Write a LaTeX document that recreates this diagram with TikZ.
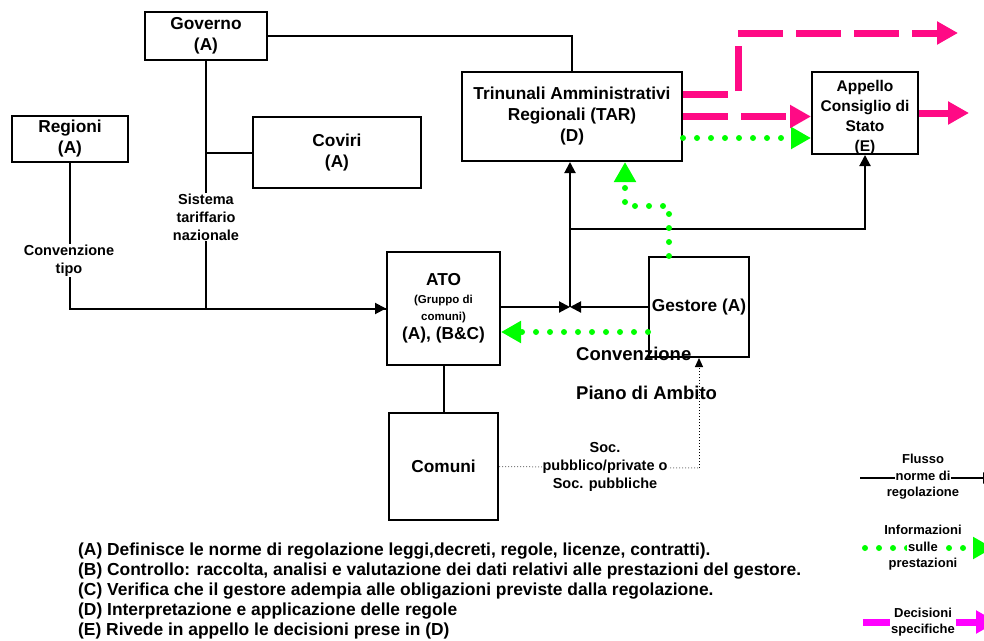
\documentclass[tikz,border=0pt]{standalone}
\usepackage{fontspec}
\setmainfont{Liberation Sans}
\usepackage{xcolor}
\usetikzlibrary{shapes,arrows.meta,positioning,calc}

\definecolor{decpink}{RGB}{255,10,133}
\definecolor{infogreen}{RGB}{0,255,0}
\definecolor{legmagenta}{RGB}{255,0,255}
\setlength{\fboxsep}{1pt}

\tikzset{
    box/.style={draw, line width=2pt, inner sep=0pt, align=center,
        font=\fontsize{17.3}{21}\selectfont\bfseries},
    norm/.style={line width=2pt},
    flow/.style={line width=2pt, -{Triangle[length=11pt,width=11pt]}},
    info/.style={infogreen, line width=6pt, line cap=round,
        dash pattern=on 0pt off 14pt, -{Triangle[length=20pt,width=21pt]}},
    decision/.style={decpink, line width=7pt, dash pattern=on 45pt off 13pt,
        -{Triangle[length=21pt,width=22pt]}},
    lbl/.style={fill=white, inner sep=1pt, align=center,
        font=\fontsize{14.5}{18}\selectfont\bfseries},
    legend/.style={inner sep=1pt, align=center,
        font=\fontsize{13}{16.5}\selectfont\bfseries},
    note/.style={anchor=base west, inner sep=0pt,
        font=\fontsize{17.4}{20}\selectfont\bfseries}
}

\begin{document}
\begin{tikzpicture}[x=1pt,y=-1pt]
            \useasboundingbox (0,0) rectangle (984,640);
            % the boxes
            \node[box, minimum width=122pt, minimum height=48pt] (gov) at (206,36) {Governo\\(A)};
            \node[box, minimum width=116pt, minimum height=46pt] (reg) at (70,139) {Regioni\\(A)};
            \node[box, minimum width=168pt, minimum height=71pt] (cov) at (337,152.5) {Coviri\\(A)};
            \node[box, minimum width=220pt, minimum height=89pt] (tar) at (572,116.5)
                {Trinunali Amministrativi\\Regionali (TAR)\\(D)};
            \node[box, minimum width=106pt, minimum height=82pt] (app) at (865,113) {};
            \node[align=center, inner sep=0pt, font=\fontsize{15.5}{20}\selectfont\bfseries]
                (apptext) at ($(app)+(0,4)$) {Appello\\Consiglio di\\Stato\\(E)};
            \node[box, minimum width=113pt, minimum height=113pt] (ato) at (443.5,308.5)
                {ATO\\[-3pt]{\fontsize{11.5}{15}\selectfont(Gruppo di}\\[-4pt]
                 {\fontsize{11.5}{15}\selectfont comuni)}\\[-2pt](A), (B\&C)};
            \node[box, minimum width=100pt, minimum height=100pt] (ges) at (699,307) {Gestore (A)};
            \node[box, minimum width=109pt, minimum height=107pt] (com) at (443.5,466.5) {Comuni};

            % flusso norme di regolazione
            \coordinate (j) at (570,307);
            \draw[norm] (gov.east) -| (tar.north);
            \draw[flow] (gov.south) |- (ato.west);
            \draw[norm] (reg.south) |- (ato.west);
            \draw[norm] (cov.west) -- (cov.west -| gov.south);
            \draw[flow] (ato.east |- j) -- (j);
            \draw[flow] (ges.west |- j) -- (j);
            \draw[flow] (j) -- (j |- tar.south);
            \coordinate (k) at ($(j)+(0,-78)$);
            \draw[flow] (k) -| (app.south);
            \draw[norm] (ato.south) -- (com.north);
            \coordinate (c1) at ($(ges.south)+(0,110)$);
            \draw[gray, line width=1pt, dotted] (com.east) -- (c1);
            \draw[line width=1pt, dotted, -{Triangle[length=9pt,width=8pt]}] (c1) -- (ges.south);

            % informazioni sulle prestazioni
            \coordinate (g1) at ($(ges.west)+(0,25)$);
            \draw[info] (g1) -- (g1 -| ato.east);
            \coordinate (g2) at ($(ges.north)+(-30,0)$);
            \draw[info] (g2) -- ++(0,-50) -- ++(-44,0) -- ($(tar.south)+(53,0)$);
            \coordinate (g3) at ($(tar.east)+(0,21.5)$);
            \draw[info] (g3) -- (g3 -| app.west);

            % decisioni specifiche
            \coordinate (p1) at ($(tar.east)+(0,-22.5)$);
            \coordinate (decout) at (958,33);
            \draw[decision] (p1) -- ++(55,0) |- (decout);
            \draw[decision] (tar.east) -- (tar.east -| app.west);
            \coordinate (appout) at ($(app.east)+(50,0)$);
            \draw[decision, solid] (app.east) -- (appout);

            % labels on the lines
            \node[lbl] (sis) at (206,217) {Sistema\\tariffario\\nazionale};
            \node[lbl] (cnv) at (69,260.5) {Convenzione\\tipo};
            \node[lbl] (soc) at (605,467) {Soc.\\pubblico/private o\\Soc. pubbliche};
            \node[anchor=west, inner sep=0pt, font=\fontsize{18.5}{22}\selectfont\bfseries] (conv) at (576,354) {Convenzione};
            \node[anchor=west, inner sep=0pt, font=\fontsize{18.5}{22}\selectfont\bfseries] (piano) at (576,393) {Piano di Ambito};

            % legend
            \coordinate (l1a) at (860,478);
            \coordinate (l1b) at (994,478);
            \draw[flow] (l1a) -- (l1b);
            \node[legend] (leg1) at (923,477) {Flusso\\\colorbox{white}{norme di}\\regolazione};
            \coordinate (l2a) at (865,548);
            \coordinate (l2b) at (993,548);
            \draw[info] (l2a) -- (l2b);
            \node[legend] (leg2) at (923,548) {Informazioni\\\colorbox{white}{sulle}\\prestazioni};
            \coordinate (l3a) at (863,622);
            \coordinate (l3b) at (997,622);
            \draw[decision, legmagenta, dash pattern=on 27pt off 65pt] (l3a) -- (l3b);
            \node[legend, fill=white] (leg3) at (923,622) {Decisioni\\specifiche};

            % notes
            \node[note] (na) at (78,555) {(A) Definisce le norme di regolazione leggi,decreti, regole, licenze, contratti).};
            \node[note] (nb) at (78,575) {(B) Controllo: raccolta, analisi e valutazione dei dati relativi alle prestazioni del gestore.};
            \node[note] (nc) at (78,595) {(C) Verifica che il gestore adempia alle obligazioni previste dalla regolazione.};
            \node[note] (nd) at (78,615) {(D) Interpretazione e applicazione delle regole};
            \node[note] (ne) at (78,635) {(E) Rivede in appello le decisioni prese in (D)};
\end{tikzpicture}
\end{document}
